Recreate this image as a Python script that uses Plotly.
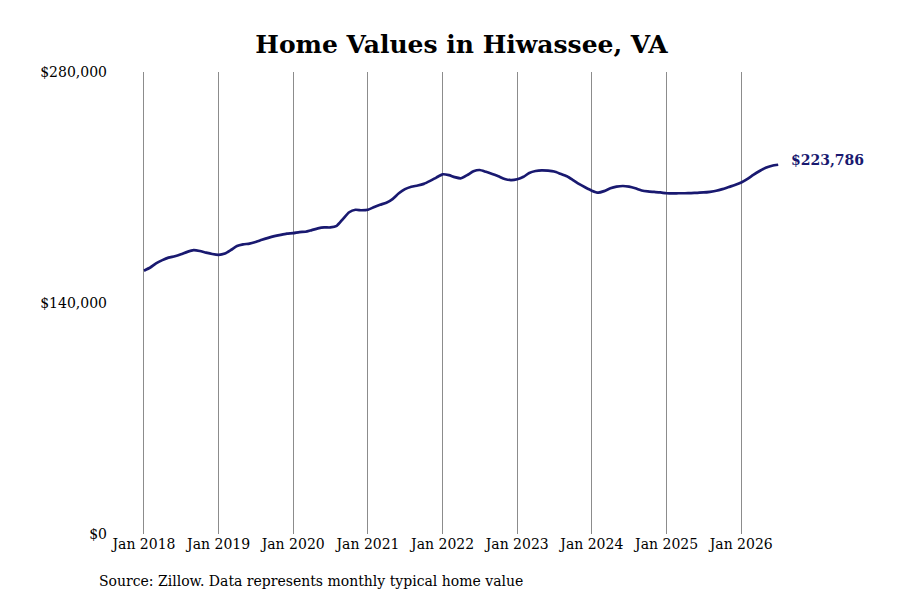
import plotly.graph_objects as go
import pandas as pd

dates = pd.date_range("2018-01-01", "2026-07-01", freq="MS")
values = [
    # 2018
    159.6, 161.5, 164.0, 166.0, 167.5, 168.3, 169.5, 171.0, 172.0, 171.5, 170.5, 169.7,
    # 2019
    169.2, 170.0, 172.0, 174.5, 175.5, 176.0, 177.0, 178.3, 179.5, 180.5, 181.3, 182.0,
    # 2020
    182.3, 183.0, 183.2, 184.2, 185.2, 185.8, 185.8, 186.8, 191.0, 195.0, 196.5, 196.2,
    # 2021
    196.5, 198.2, 199.5, 200.8, 203.0, 206.5, 209.0, 210.5, 211.2, 212.2, 214.0, 216.0,
    # 2022
    218.0, 217.5, 216.3, 215.6, 217.5, 219.8, 220.6, 219.5, 218.2, 216.8, 215.2, 214.5,
    # 2023
    215.0, 216.5, 218.8, 220.0, 220.4, 220.2, 219.7, 218.3, 216.8, 214.5, 212.0, 210.0,
    # 2024
    208.1, 206.9, 207.8, 209.5, 210.5, 210.9, 210.5, 209.5, 208.2, 207.6, 207.3, 207.0,
    # 2025
    206.5, 206.4, 206.5, 206.5, 206.6, 206.8, 207.0, 207.4, 208.0, 209.0, 210.3, 211.5,
    # 2026
    213.0, 215.2, 217.6, 220.0, 222.0, 223.2, 223.786,
]
values = [v * 1000 for v in values]

title_text = "Home Values in Hiwassee, VA"
source_text = "Source: Zillow. Data represents monthly typical home value"
y_tickvals = [0, 140000, 280000]
y_ticktext = ["$0", "$140,000", "$280,000"]
x_tickvals = pd.date_range("2018-01-01", "2026-01-01", freq="YS")
x_ticktext = [f"Jan {d.year}" for d in x_tickvals]
last_label = "$223,786"

LINE = "#191970"
FONT = "DejaVu Serif"

W, H = 900, 600
ML, MR, MT, MB = 100, 93, 64, 74
PW, PH = W - ML - MR, H - MT - MB

fig = go.Figure()
fig.add_trace(go.Scatter(
    x=dates, y=values, mode="lines",
    line=dict(color=LINE, width=2.7, shape="spline", smoothing=0.6),
    hoverinfo="skip", showlegend=False,
))

fig.add_annotation(
    x=dates[-1], y=values[-1], xref="x", yref="y",
    text=f"<b>{last_label}</b>", showarrow=False,
    xanchor="left", yanchor="middle", xshift=11, yshift=5,
    font=dict(family=FONT, size=14, color=LINE),
)
fig.add_annotation(
    x=(89 - ML) / PW, y=-(573 - (H - MB)) / PH, xref="paper", yref="paper",
    text=source_text, showarrow=False, xanchor="left", yanchor="middle",
    font=dict(family=FONT, size=14, color="#000000"),
)

fig.update_layout(
    width=W, height=H,
    paper_bgcolor="white", plot_bgcolor="white",
    margin=dict(l=ML, r=MR, t=MT, b=MB),
    title=dict(text=f"<b>{title_text}</b>", x=453.5 / W, xanchor="center",
               y=1 - 36 / H, yanchor="middle",
               font=dict(family=FONT, size=25, color="#000000")),
    font=dict(family=FONT, size=14, color="#000000"),
    xaxis=dict(
        range=["2017-07-09", "2026-12-28"],
        tickvals=x_tickvals, ticktext=x_ticktext,
        showgrid=True, gridcolor="#8c8c8c", gridwidth=1,
        zeroline=False, showline=False, ticks="",
        tickfont=dict(family=FONT, size=14, color="#000000"),
    ),
    yaxis=dict(
        range=[0, 280000], tickvals=y_tickvals, ticktext=y_ticktext,
        showgrid=False, zeroline=False, showline=False, ticks="",
        tickfont=dict(family=FONT, size=14, color="#000000"),
    ),
)

fig.write_html("out.html")
